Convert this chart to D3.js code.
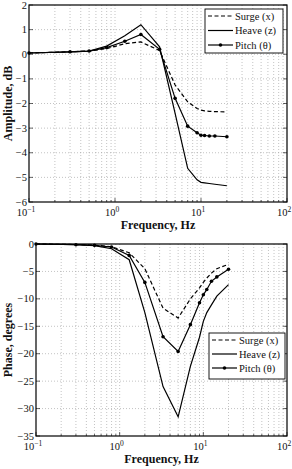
<!DOCTYPE html>
<html>
<head>
<meta charset="UTF-8">
<title>Frequency response</title>
<script src="https://d3js.org/d3.v7.min.js"></script>
<style>
  body { margin: 0; background: #fff; }
  text { font-family: "Liberation Serif", "DejaVu Serif", serif; fill: #111; }
</style>
</head>
<body>
<script>
  // frequencies shared by all series (Hz)
  const freq = [0.1, 0.3, 0.5, 0.8, 1.3, 2, 3.3, 5, 7, 9, 10, 11, 12.5, 14.5, 20];

  // amplitude, dB
  const surgeAmp = [0.05, 0.1, 0.13, 0.23, 0.43, 0.5, 0.15, -1.25, -1.93, -2.2, -2.27, -2.3, -2.32, -2.33, -2.34];
  const heaveAmp = [0.05, 0.1, 0.13, 0.33, 0.75, 1.2, 0.3, -2.4, -4.63, -5.1, -5.2, -5.22, -5.25, -5.28, -5.34];
  const pitchAmp = [0.05, 0.1, 0.13, 0.27, 0.53, 0.8, 0.2, -1.79, -2.92, -3.19, -3.29, -3.3, -3.32, -3.32, -3.35];

  // phase, degrees
  const surgePh = [0, -0.1, -0.2, -0.5, -1.6, -4.5, -11.7, -13.5, -10.0, -8.0, -7.0, -6.2, -5.3, -4.5, -3.7];
  const heavePh = [0, -0.1, -0.3, -0.86, -2.87, -12.5, -26.0, -31.5, -22.3, -17, -14.1, -12.5, -11.1, -9.5, -7.4];
  const pitchPh = [0, -0.13, -0.25, -0.55, -2.08, -7.0, -16.9, -19.6, -14.7, -10.7, -9.26, -8.3, -6.8, -6.0, -4.6];

  const seriesNames = ["Surge (x)", "Heave (z)", "Pitch (\u03b8)"];
  const xTickExp = [-1, 0, 1, 2];
  const ampTicks = [2, 1, 0, -1, -2, -3, -4, -5, -6];
  const phTicks = [0, -5, -10, -15, -20, -25, -30, -35];

  const svg = d3.select("body").append("svg")
    .attr("width", 292).attr("height", 469);

  function panel(opt) {
    const x = d3.scaleLog().domain([0.1, 100]).range([opt.left, opt.right]);
    const y = d3.scaleLinear().domain(opt.ydom).range([opt.bottom, opt.top]);
    const g = svg.append("g");

    // minor + major vertical grid
    const vgrid = [];
    for (let e = -1; e < 2; e++) for (let k = 1; k < 10; k++) vgrid.push(k * Math.pow(10, e));
    vgrid.push(100);
    g.selectAll(".vg").data(vgrid.filter(v => v > 0.1 && v < 100)).join("line")
      .attr("x1", d => x(d)).attr("x2", d => x(d))
      .attr("y1", opt.top).attr("y2", opt.bottom)
      .attr("stroke", "#9a9a9a").attr("stroke-width", 0.6)
      .attr("stroke-dasharray", "1,2");
    g.selectAll(".hg").data(opt.yticks.filter(v => v !== opt.ydom[0] && v !== opt.ydom[1])).join("line")
      .attr("x1", opt.left).attr("x2", opt.right)
      .attr("y1", d => y(d)).attr("y2", d => y(d))
      .attr("stroke", "#9a9a9a").attr("stroke-width", 0.6)
      .attr("stroke-dasharray", "1,2");

    // inward ticks
    g.selectAll(".xt").data(vgrid).join("line")
      .attr("x1", d => x(d)).attr("x2", d => x(d))
      .attr("y1", opt.bottom).attr("y2", d => opt.bottom - (Number.isInteger(Math.log10(d)) ? 4 : 2))
      .attr("stroke", "#000").attr("stroke-width", 0.6);
    g.selectAll(".yt").data(opt.yticks).join("line")
      .attr("x1", opt.left).attr("x2", opt.left + 4)
      .attr("y1", d => y(d)).attr("y2", d => y(d))
      .attr("stroke", "#000").attr("stroke-width", 0.6);
    g.selectAll(".yt2").data(opt.yticks).join("line")
      .attr("x1", opt.right).attr("x2", opt.right - 4)
      .attr("y1", d => y(d)).attr("y2", d => y(d))
      .attr("stroke", "#000").attr("stroke-width", 0.6);

    // box
    g.append("rect")
      .attr("x", opt.left).attr("y", opt.top)
      .attr("width", opt.right - opt.left).attr("height", opt.bottom - opt.top)
      .attr("fill", "none").attr("stroke", "#000").attr("stroke-width", 1.2);

    // y tick labels
    g.selectAll(".yl").data(opt.yticks).join("text")
      .attr("x", opt.left - 2).attr("y", d => y(d) + 3.5)
      .attr("text-anchor", "end").attr("font-size", 10.5)
      .text(d => d < 0 ? "\u2212" + Math.abs(d) : d);

    // x tick labels 10^n
    const xl = g.selectAll(".xl").data(xTickExp).join("text")
      .attr("x", d => x(Math.pow(10, d)) - 3).attr("y", opt.bottom + 14)
      .attr("text-anchor", "middle").attr("font-size", 10.5);
    xl.append("tspan").text("10");
    xl.append("tspan").attr("dy", -4).attr("font-size", 7.5)
      .text(d => d < 0 ? "\u2212" + Math.abs(d) : d);

    // axis labels
    g.append("text")
      .attr("x", (opt.left + opt.right) / 2).attr("y", opt.bottom + 27)
      .attr("text-anchor", "middle").attr("font-size", 12).attr("font-weight", "bold")
      .text("Frequency, Hz");
    g.append("text")
      .attr("transform", `translate(12,${(opt.top + opt.bottom) / 2}) rotate(-90)`)
      .attr("text-anchor", "middle").attr("font-size", 12).attr("font-weight", "bold")
      .text(opt.ylabel);

    const line = d3.line().x((d, i) => x(freq[i])).y(d => y(d));
    const styles = [
      {dash: "4,2.5", marker: false},
      {dash: null, marker: false},
      {dash: null, marker: true}
    ];
    opt.series.forEach((s, k) => {
      g.append("path").datum(s)
        .attr("d", line).attr("fill", "none")
        .attr("stroke", "#000").attr("stroke-width", 1.2)
        .attr("stroke-dasharray", styles[k].dash);
      if (styles[k].marker) {
        g.selectAll(".mk" + k).data(s).join("circle")
          .attr("cx", (d, i) => x(freq[i])).attr("cy", d => y(d))
          .attr("r", 1.8).attr("fill", "#000");
      }
    });

    // legend
    const lg = g.append("g");
    const L = opt.legend;
    lg.append("rect").attr("x", L.x).attr("y", L.y)
      .attr("width", L.w).attr("height", L.h)
      .attr("fill", "#fff").attr("stroke", "#000").attr("stroke-width", 0.9);
    seriesNames.forEach((name, k) => {
      const yy = L.y + 7 + k * L.dy;
      lg.append("line")
        .attr("x1", L.x + 3).attr("x2", L.x + 28)
        .attr("y1", yy).attr("y2", yy)
        .attr("stroke", "#000").attr("stroke-width", 1.2)
        .attr("stroke-dasharray", styles[k].dash);
      if (styles[k].marker) {
        lg.append("circle").attr("cx", L.x + 15.5).attr("cy", yy).attr("r", 1.8).attr("fill", "#000");
      }
      lg.append("text").attr("x", L.x + 30).attr("y", yy + 3.5)
        .attr("font-size", 10.5).text(name);
    });
  }

  panel({
    left: 29, right: 287, top: 5, bottom: 202,
    ydom: [-6, 2], yticks: ampTicks, ylabel: "Amplitude, dB",
    series: [surgeAmp, heaveAmp, pitchAmp],
    legend: {x: 205, y: 9, w: 78, h: 44, dy: 14.5}
  });

  panel({
    left: 36, right: 287, top: 244, bottom: 436,
    ydom: [-35, 0], yticks: phTicks, ylabel: "Phase, degrees",
    series: [surgePh, heavePh, pitchPh],
    legend: {x: 209, y: 333, w: 76, h: 46, dy: 14}
  });
</script>
</body>
</html>
